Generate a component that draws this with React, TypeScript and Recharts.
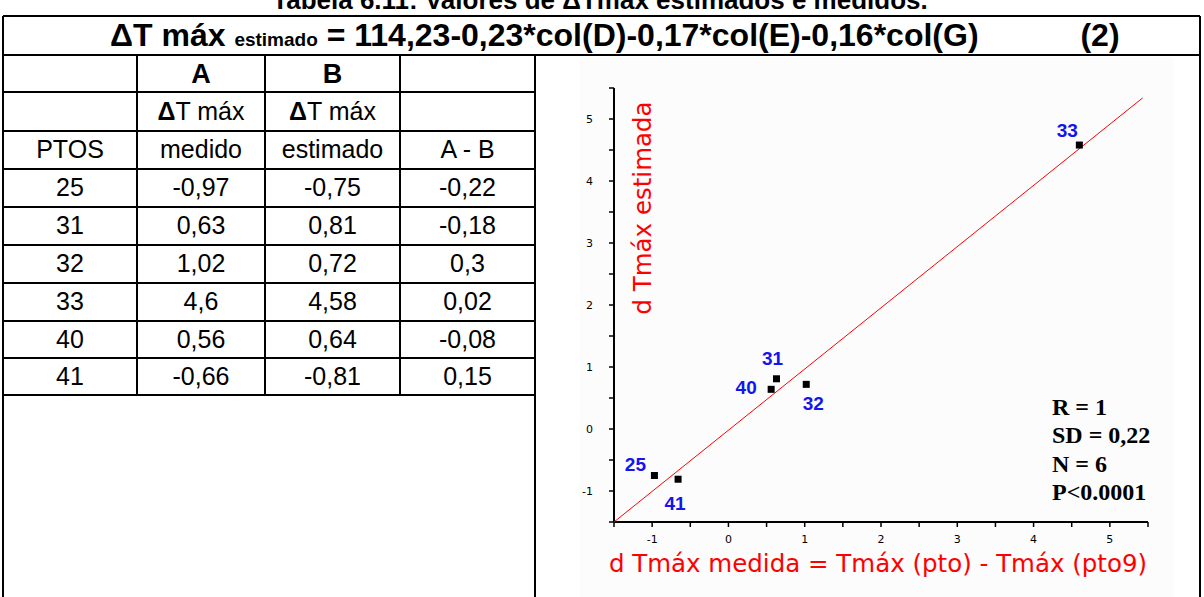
import React from 'react';
import { ScatterChart, Scatter, XAxis, YAxis } from 'recharts';

// valores da tabela 6.11
const pontos = ['25', '31', '32', '33', '40', '41'];
const medido = [-0.97, 0.63, 1.02, 4.6, 0.56, -0.66];
const estimado = [-0.75, 0.81, 0.72, 4.58, 0.64, -0.81];
const diferenca = [-0.22, -0.18, 0.3, 0.02, -0.08, 0.15];

// reta de ajuste (extremos)
const ajusteX = [-1.5, 5.43];
const ajusteY = [-1.5, 5.34];

const eixoTicks = [-1.5, -1, -0.5, 0, 0.5, 1, 1.5, 2, 2.5, 3, 3.5, 4, 4.5, 5, 5.5];
const estatisticas = ['R = 1', 'SD = 0,22', 'N = 6', 'P<0.0001'];

const X_TITLE = 'd Tmáx medida = Tmáx (pto) - Tmáx (pto9)';
const Y_TITLE = 'd Tmáx estimada';

// deslocamento do rótulo em relação ao marcador (px)
const LABEL_OFFSETS: Record<string, [number, number]> = {
	'25': [-19, -11],
	'31': [-4, -20],
	'32': [7, 19],
	'33': [-12, -15],
	'40': [-25, -2],
	'41': [-3, 24],
};

const SANS = '"Liberation Sans", Arial, sans-serif';
const SERIF = '"Liberation Serif", "Times New Roman", serif';
const DEJAVU = '"DejaVu Sans", Verdana, sans-serif';

const colX = [3, 137, 265, 400, 535];
const rowY = [55, 92, 131, 169, 207, 245, 283, 321, 358, 395];

const fmt = (v: number) => String(v).replace('.', ',');

const dadosPontos = pontos.map((p, i) => ({ pto: p, x: medido[i], y: estimado[i] }));
const dadosAjuste = ajusteX.map((x, i) => ({ x, y: ajusteY[i] }));

const PontoShape = (props: any) => {
	const { cx, cy, payload } = props;
	const off = LABEL_OFFSETS[payload.pto] || [0, 0];
	return (
		<g>
			<rect x={cx - 3.5} y={cy - 3.5} width={7} height={7} fill='#000' />
			<text
				x={cx + off[0]}
				y={cy + off[1]}
				textAnchor='middle'
				dominantBaseline='central'
				fill='#1414f0'
				fontWeight='bold'
				fontSize={19}
				fontFamily={SANS}
			>
				{payload.pto}
			</text>
		</g>
	);
};

const XTitle = ({ viewBox }: any) => (
	<text
		x={viewBox.x + viewBox.width / 2 - 3}
		y={viewBox.y + 41}
		textAnchor='middle'
		dominantBaseline='central'
		fill='#ff0000'
		fontSize={24.5}
		fontFamily={DEJAVU}
	>
		{X_TITLE}
	</text>
);

const YTitle = ({ viewBox }: any) => {
	const cx = viewBox.x + 68;
	const cy = viewBox.y + 120;
	return (
		<text
			x={cx}
			y={cy}
			transform={`rotate(-90, ${cx}, ${cy})`}
			textAnchor='middle'
			dominantBaseline='central'
			fill='#ff0000'
			fontSize={24.5}
			fontFamily={DEJAVU}
		>
			{Y_TITLE}
		</text>
	);
};

const Tabela = () => {
	const cx = (c: number) => (colX[c] + colX[c + 1]) / 2;
	const cy = (r: number) => (rowY[r] + rowY[r + 1]) / 2 + 8;
	const cell = (c: number, r: number, txt: React.ReactNode, bold = false) => (
		<text
			key={`${c}-${r}`}
			x={cx(c)}
			y={cy(r) + (bold ? 1 : 0)}
			textAnchor='middle'
			fontSize={bold ? 27 : 25}
			fontWeight={bold ? 'bold' : 'normal'}
			fontFamily={SANS}
			fill='#000'
		>
			{txt}
		</text>
	);
	const lw = 2;
	return (
		<svg width={1204} height={597} style={{ position: 'absolute', left: 0, top: 0 }}>
			<text x={600} y={9} textAnchor='middle' fontSize={26} fontWeight='bold' fontFamily={SANS}>
				Tabela 6.11: Valores de ΔTmáx estimados e medidos.
			</text>
			<text x={110} y={46} fontSize={32} fontWeight='bold' fontFamily={SANS}>
				ΔT máx <tspan fontSize={19}>estimado</tspan> = 114,23-0,23*col(D)-0,17*col(E)-0,16*col(G)
			</text>
			<text x={1100} y={46} textAnchor='middle' fontSize={32} fontWeight='bold' fontFamily={SANS}>
				(2)
			</text>
			{/* moldura */}
			<line x1={3} y1={16} x2={1200} y2={16} stroke='#000' strokeWidth={lw} />
			<line x1={3} y1={rowY[0]} x2={1200} y2={rowY[0]} stroke='#000' strokeWidth={lw} />
			<line x1={3} y1={16} x2={3} y2={597} stroke='#000' strokeWidth={lw} />
			<line x1={1200} y1={16} x2={1200} y2={597} stroke='#000' strokeWidth={lw} />
			<line x1={535} y1={rowY[0]} x2={535} y2={597} stroke='#000' strokeWidth={lw} />
			{colX.slice(1, 4).map((x) => (
				<line key={x} x1={x} y1={rowY[0]} x2={x} y2={rowY[9]} stroke='#000' strokeWidth={lw} />
			))}
			{rowY.slice(1).map((y) => (
				<line key={y} x1={3} y1={y} x2={535} y2={y} stroke='#000' strokeWidth={lw} />
			))}
			{cell(1, 0, 'A', true)}
			{cell(2, 0, 'B', true)}
			{cell(1, 1, <><tspan fontWeight='bold'>Δ</tspan>T máx</>)}
			{cell(2, 1, <><tspan fontWeight='bold'>Δ</tspan>T máx</>)}
			{cell(0, 2, 'PTOS')}
			{cell(1, 2, 'medido')}
			{cell(2, 2, 'estimado')}
			{cell(3, 2, 'A - B')}
			{pontos.map((p, i) => (
				<React.Fragment key={p}>
					{cell(0, i + 3, p)}
					{cell(1, i + 3, fmt(medido[i]))}
					{cell(2, i + 3, fmt(estimado[i]))}
					{cell(3, i + 3, fmt(diferenca[i]))}
				</React.Fragment>
			))}
		</svg>
	);
};

const tickFmt = (v: number) => (Number.isInteger(v) ? String(v) : '');

export default function App() {
	return (
		<div
			style={{
				position: 'absolute',
				left: 0,
				top: 0,
				width: 1204,
				height: 597,
				overflow: 'hidden',
				background: '#fff',
			}}
		>
			<Tabela />
			<div
				style={{
					position: 'absolute',
					left: 580,
					top: 57,
					width: 594,
					height: 540,
					background: '#fcfcfc',
				}}
			/>
			<div style={{ position: 'absolute', left: 540, top: 55 }}>
				<ScatterChart
					width={658}
					height={542}
					margin={{ top: 33, right: 50, bottom: 35, left: 34 }}
				>
					<XAxis
						type='number'
						dataKey='x'
						domain={[-1.5, 5.5]}
						ticks={eixoTicks}
						interval={0}
						tickFormatter={tickFmt}
						allowDataOverflow
						height={40}
						tickSize={5}
						tickMargin={8}
						axisLine={{ stroke: '#000', strokeWidth: 2 }}
						tickLine={{ stroke: '#000', strokeWidth: 1.5 }}
						tick={{ fontSize: 11, fill: '#000', fontFamily: DEJAVU }}
						label={{ content: XTitle }}
					/>
					<YAxis
						type='number'
						dataKey='y'
						domain={[-1.5, 5.5]}
						ticks={eixoTicks}
						interval={0}
						tickFormatter={tickFmt}
						allowDataOverflow
						width={40}
						tickSize={5}
						tickMargin={16}
						axisLine={{ stroke: '#000', strokeWidth: 2 }}
						tickLine={{ stroke: '#000', strokeWidth: 1.5 }}
						tick={{ fontSize: 11, fill: '#000', fontFamily: DEJAVU }}
						label={{ content: YTitle }}
					/>
					<Scatter
						data={dadosAjuste}
						line={{ stroke: '#ff0000', strokeWidth: 1 }}
						shape={() => <g />}
						isAnimationActive={false}
					/>
					<Scatter data={dadosPontos} shape={PontoShape} isAnimationActive={false} />
				</ScatterChart>
			</div>
			{estatisticas.map((s, i) => (
				<div
					key={s}
					style={{
						position: 'absolute',
						left: 1052,
						top: 407 + i * 28.3 - 14,
						height: 28,
						lineHeight: '28px',
						fontFamily: SERIF,
						fontWeight: 'bold',
						fontSize: 24,
						color: '#000',
						whiteSpace: 'nowrap',
					}}
				>
					{s}
				</div>
			))}
		</div>
	);
}
